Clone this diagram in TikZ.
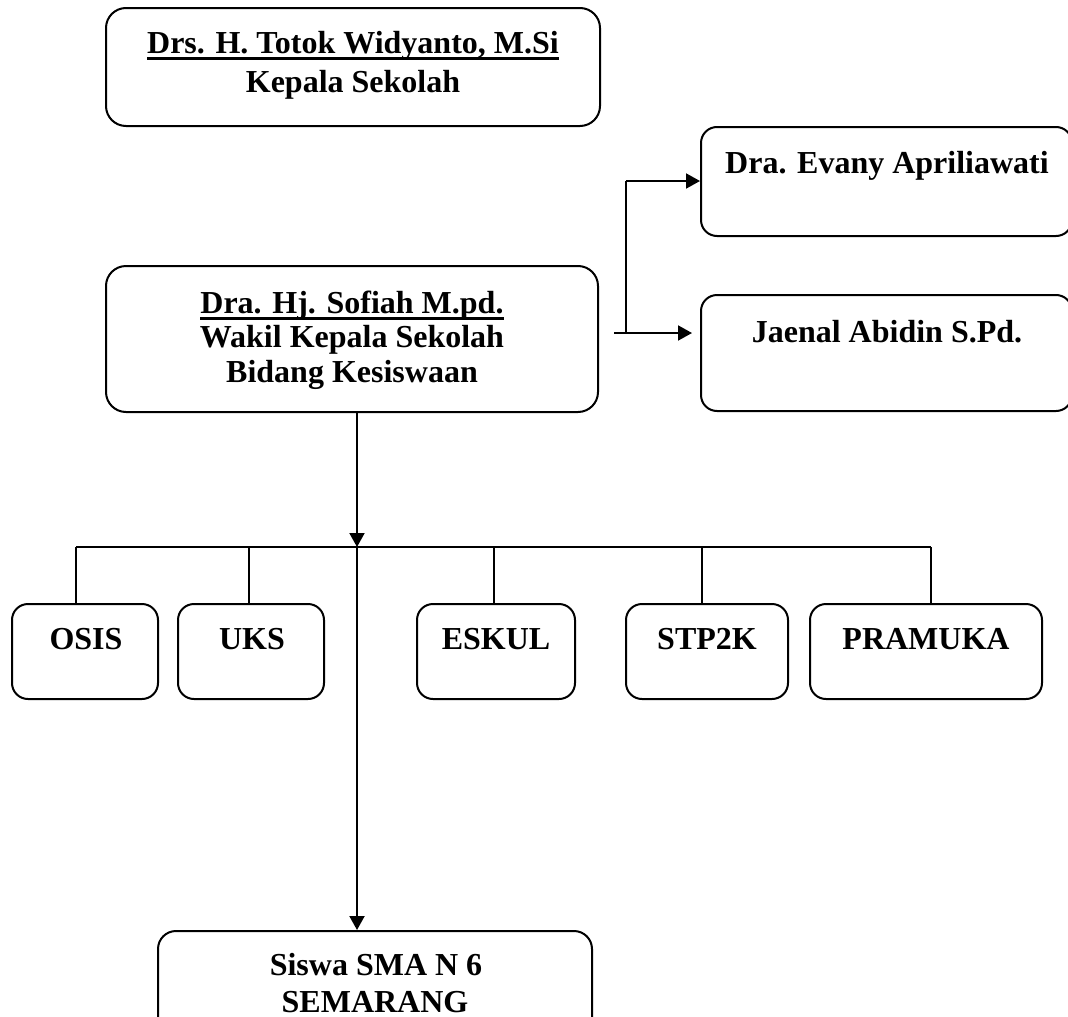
\documentclass[tikz,border=0pt]{standalone}
\usepackage{fontspec}
\setmainfont{Liberation Serif}
\usetikzlibrary{arrows.meta}
\newcommand{\myuline}[1]{\setbox0=\hbox{#1}\rlap{\rule[-6.5pt]{\wd0}{2.6pt}}\box0}
\tikzset{
  box/.style={draw, line width=2pt, rounded corners=16pt, inner sep=0pt},
  lbl/.style={anchor=base, inner sep=0pt, font=\fontsize{32}{38}\selectfont\bfseries},
  arr/.style={line width=2pt, -{Triangle[length=14pt,width=15pt]}},
  link/.style={line width=1.6pt},
}
\begin{document}
\begin{tikzpicture}[x=1pt,y=-1pt]
\useasboundingbox (0,0) rectangle (1068,1017);
\clip (0,0) rectangle (1068,1017);
% boxes
\node[box, rounded corners=20pt, minimum width=494pt, minimum height=118pt] (kepala) at (353,67) {};
\node[box, rounded corners=20pt, minimum width=492pt, minimum height=146pt] (sofiah) at (352,339) {};
\node[box, minimum width=371pt, minimum height=109pt] (evany) at (886.5,181.5) {};
\node[box, minimum width=371pt, minimum height=116pt] (jaenal) at (886.5,353) {};
\node[box, minimum width=146pt, minimum height=95pt] (osis) at (85,651.5) {};
\node[box, minimum width=146pt, minimum height=95pt] (uks) at (251,651.5) {};
\node[box, minimum width=158pt, minimum height=95pt] (eskul) at (496,651.5) {};
\node[box, minimum width=162pt, minimum height=95pt] (stp) at (707,651.5) {};
\node[box, minimum width=232pt, minimum height=95pt] (pramuka) at (926,651.5) {};
\node[box, rounded corners=18pt, minimum width=434pt, minimum height=114pt] (siswa) at (375,988) {};
% texts
\node[lbl] (t1a) at (353,53) {\myuline{Drs. H. Totok Widyanto, M.Si}};
\node[lbl] (t1b) at (353,92) {Kepala Sekolah};
\node[lbl] (t2a) at (352,313) {\myuline{Dra. Hj. Sofiah M.pd.}};
\node[lbl] (t2b) at (352,347.5) {Wakil Kepala Sekolah};
\node[lbl] (t2c) at (352,382) {Bidang Kesiswaan};
\node[lbl] (t3) at (887,173) {Dra. Evany Apriliawati};
\node[lbl] (t4) at (887,342) {Jaenal Abidin S.Pd.};
\node[lbl] (t5) at (86,649) {OSIS};
\node[lbl] (t6) at (252,649) {UKS};
\node[lbl] (t7) at (496,649) {ESKUL};
\node[lbl] (t8) at (707,649) {STP2K};
\node[lbl] (t9) at (926,649) {PRAMUKA};
\node[lbl] (t10a) at (376,975) {Siswa SMA N 6};
\node[lbl, text depth=0pt] (t10b) at (375,1012) {SEMARANG};
% trunk
\coordinate (bj) at (357,547);
\draw[arr] (sofiah.south -| bj) -- (bj);
\draw[arr] (bj) -- (bj |- siswa.north);
% bus
\coordinate (d1) at (76,547);
\coordinate (d2) at (249,547);
\coordinate (d3) at (494,547);
\coordinate (d4) at (702,547);
\coordinate (d5) at (931,547);
\draw[link] (d1) -- (d5);
\draw[link] (d1) -- (d1 |- osis.north);
\draw[link] (d2) -- (d2 |- uks.north);
\draw[link] (d3) -- (d3 |- eskul.north);
\draw[link] (d4) -- (d4 |- stp.north);
\draw[link] (d5) -- (d5 |- pramuka.north);
% branch to right
\coordinate (bt) at (626,181);
\coordinate (bb) at (626,333);
\coordinate (bs) at (614,333);
\draw[line width=2pt] (bt) -- (bb);
\draw[arr] (bt) -- (bt -| evany.west);
\draw[arr] (bs) -- ([xshift=-8pt]bs -| jaenal.west);
\end{tikzpicture}
\end{document}
